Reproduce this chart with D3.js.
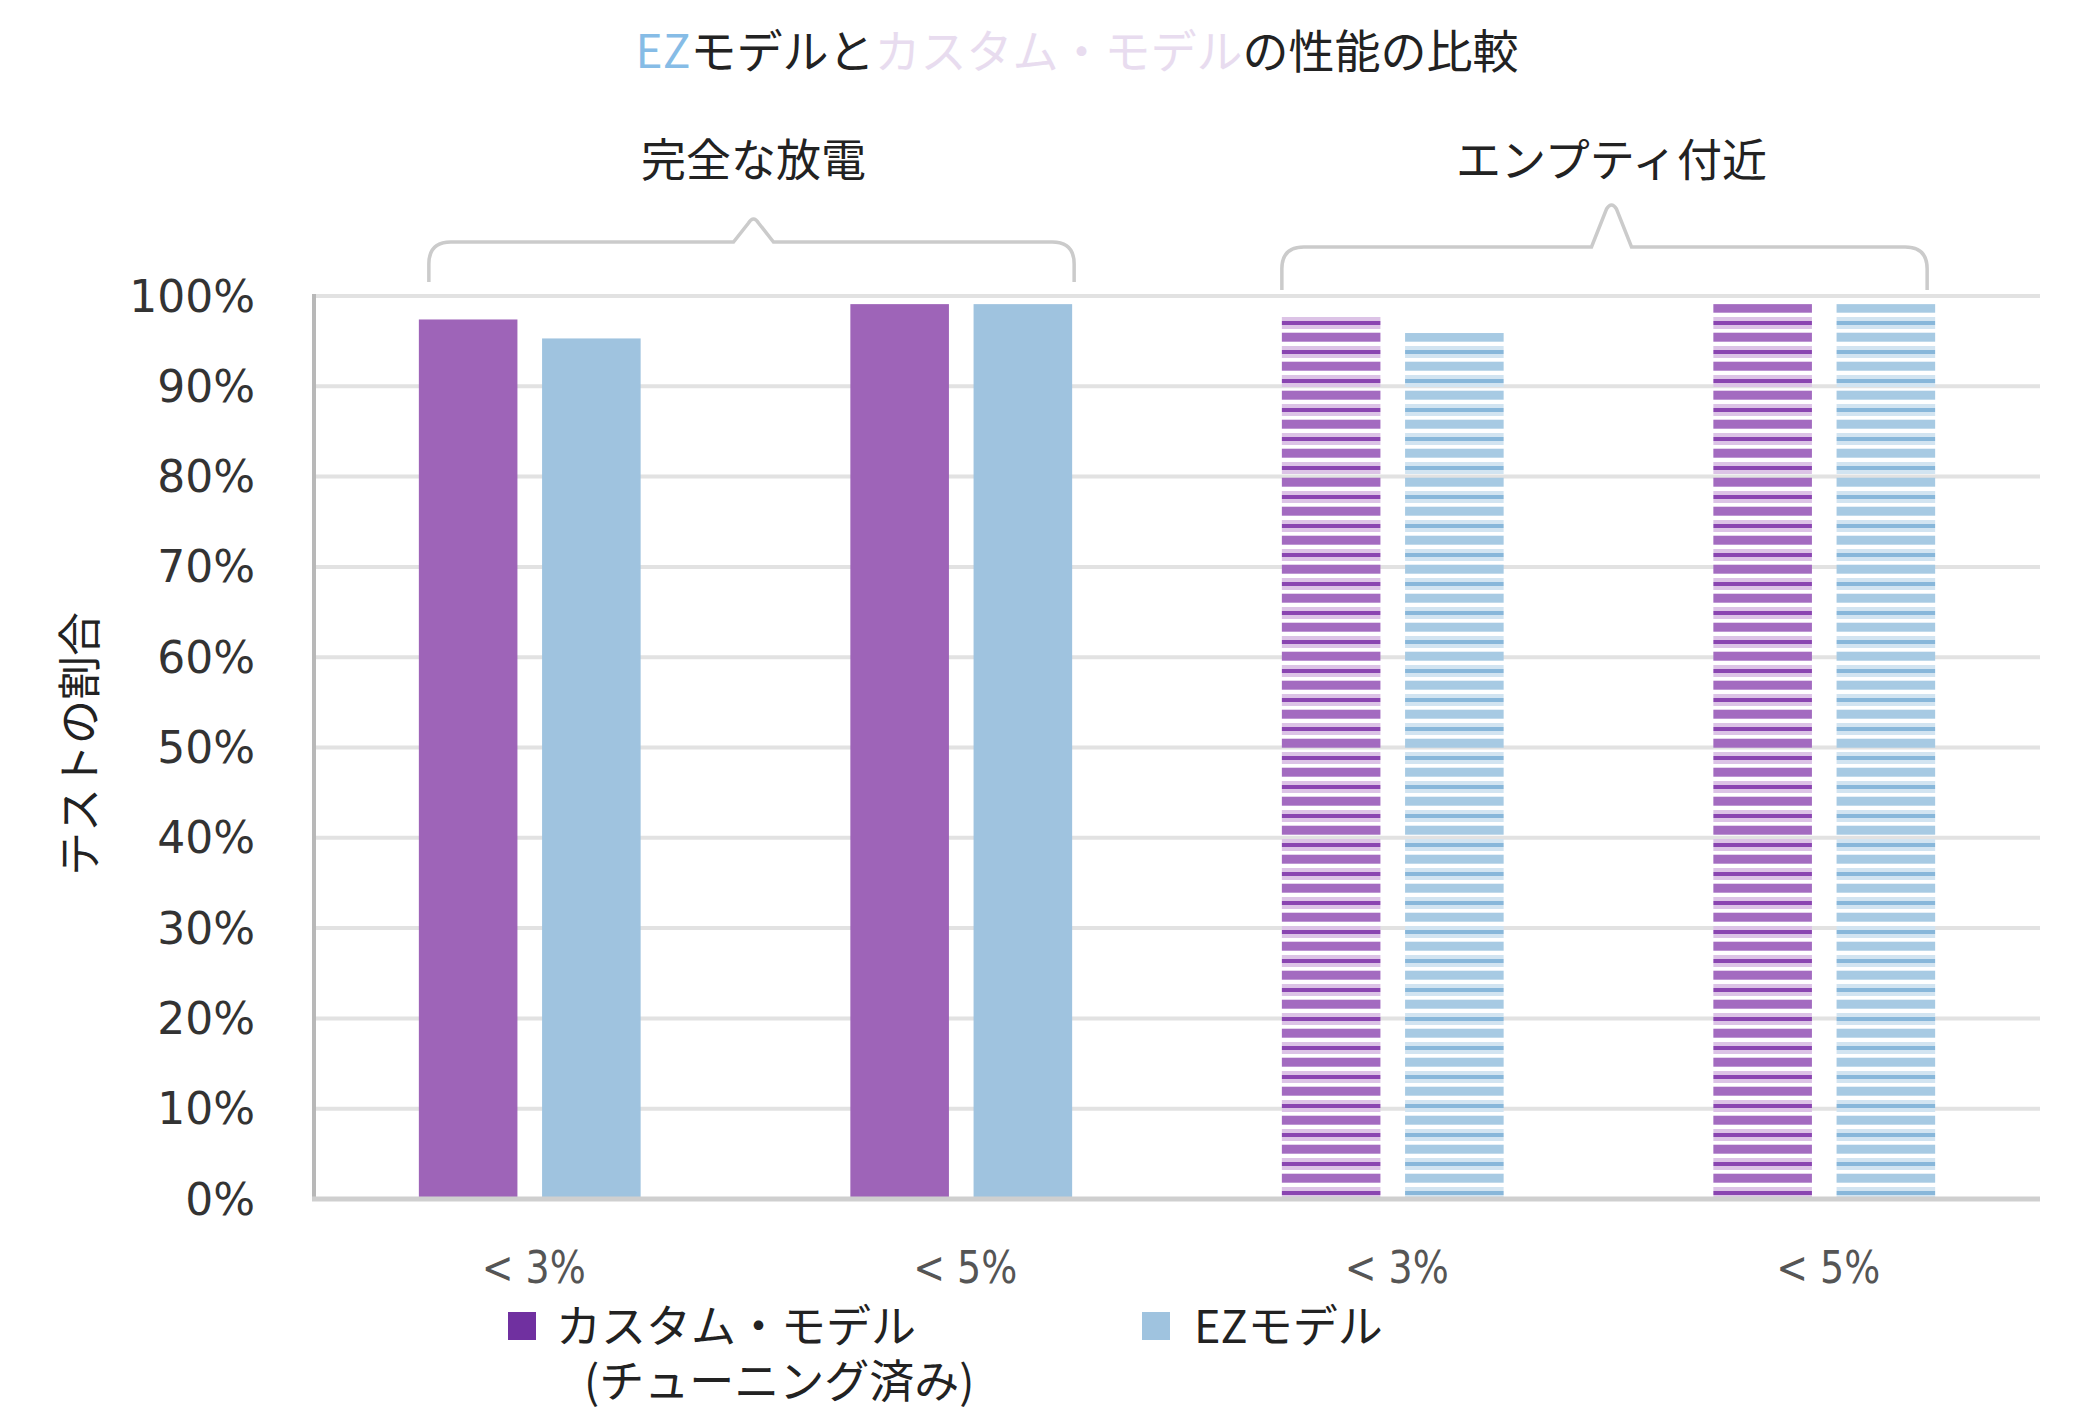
<!DOCTYPE html>
<html><head><meta charset="utf-8">
<script src="https://cdn.jsdelivr.net/npm/d3@7"></script>
<style>html,body{margin:0;padding:0;background:#fff;}</style>
</head><body>
<svg id="chart" width="2084" height="1414"></svg>
<script>
const categories = ["< 3%", "< 5%", "< 3%", "< 5%"];
const groupLabels = ["完全な放電", "エンプティ付近"];
const seriesNames = ["カスタム・モデル", "EZモデル"];
const legendSub = "(チューニング済み)";
const customValues = [97.4, 99.1, 97.7, 99.1];
const ezValues = [95.3, 99.1, 95.9, 99.1];
const striped = [false, false, true, true];
const yTicks = [0,10,20,30,40,50,60,70,80,90,100];

const svg = d3.select("#chart");
const W = 2084, H = 1414;
svg.append("rect").attr("width", W).attr("height", H).attr("fill", "#fff");

const L = 314, R = 2040, T = 296, B = 1199;
const CJK = "'Noto Sans CJK JP', 'Noto Sans', sans-serif";
const y = d3.scaleLinear().domain([0, 100]).range([B, T]);
const x0 = d3.scaleBand().domain(d3.range(categories.length)).range([L, R]).paddingInner(0.486).paddingOuter(0.243);
const x1 = d3.scaleBand().domain([0, 1]).range([0, x0.bandwidth()]).paddingInner(0.2);

const colors = {solid: ["#9e64b8", "#9fc3df"], legend: ["#7030a0", "#9fc3df"]};

// patterns
const defs = svg.append("defs");
const pat = [
  {id: "stripeP", light: "#dcc3e6", dark: "#8a45b1", med: "#a36bc0"},
  {id: "stripeB", light: "#d2e4f1", dark: "#88b7da", med: "#a7cae3"}
];
pat.forEach(p => {
  const g = defs.append("pattern").attr("id", p.id).attr("patternUnits", "userSpaceOnUse")
    .attr("x", 0).attr("y", 317).attr("width", 10).attr("height", 29);
  g.append("rect").attr("x", 0).attr("y", 0).attr("width", 10).attr("height", 12).attr("fill", p.light);
  g.append("rect").attr("x", 0).attr("y", 4).attr("width", 10).attr("height", 4).attr("fill", p.dark);
  g.append("rect").attr("x", 0).attr("y", 15.7).attr("width", 10).attr("height", 9).attr("fill", p.med);
});

// gridlines
svg.append("g").selectAll("line").data(yTicks).join("line")
  .attr("x1", L).attr("x2", R).attr("y1", d => y(d)).attr("y2", d => y(d))
  .attr("stroke", "#e2e2e2").attr("stroke-width", 4);

// y tick labels
svg.append("g").selectAll("text").data(yTicks).join("text")
  .attr("x", 255).attr("y", d => y(d)).attr("text-anchor", "end").attr("dominant-baseline", "central")
  .attr("font-family", "'DejaVu Sans', sans-serif").attr("font-size", 44).attr("fill", "#333")
  .text(d => d + "%");

// bars
const series = [customValues, ezValues];
series.forEach((vals, si) => {
  svg.append("g").selectAll("rect").data(vals).join("rect")
    .attr("x", (d, i) => x0(i) + x1(si)).attr("width", x1.bandwidth())
    .attr("y", d => y(d)).attr("height", d => y(0) - y(d))
    .attr("fill", (d, i) => striped[i] ? `url(#${pat[si].id})` : colors.solid[si]);
});

// axes lines
svg.append("line").attr("x1", L).attr("x2", L).attr("y1", T - 2).attr("y2", B + 2)
  .attr("stroke", "#b8b8b8").attr("stroke-width", 4);
svg.append("line").attr("x1", L - 2).attr("x2", R).attr("y1", B).attr("y2", B)
  .attr("stroke", "#cfcfcf").attr("stroke-width", 5);

// category labels
svg.append("g").selectAll("text").data(categories).join("text")
  .attr("x", (d, i) => x0(i) + x0.bandwidth() / 2 + 4).attr("y", 1267)
  .attr("text-anchor", "middle").attr("dominant-baseline", "central")
  .attr("font-family", "'DejaVu Sans', sans-serif").attr("font-size", 44).attr("fill", "#555")
  .attr("textLength", 104).attr("lengthAdjust", "spacingAndGlyphs")
  .text(d => d);

// braces
const braceSpec = [
  {a: 0, b: 1, da: 10, db: 2, line: 242, peak: 217, bottom: 282, ly: 157, dm: 2},
  {a: 2, b: 3, da: 0, db: -8, line: 247, peak: 203, bottom: 290, ly: 157, dm: 7}
];
braceSpec.forEach((s, gi) => {
  const xa = x0(s.a) + s.da, xb = x0(s.b) + x0.bandwidth() + s.db;
  const xm = (xa + xb) / 2 + s.dm;
  const r = 22;
  const p = d3.path();
  p.moveTo(xa, s.bottom);
  p.lineTo(xa, s.line + r);
  p.quadraticCurveTo(xa, s.line, xa + r, s.line);
  p.lineTo(xm - 20, s.line);
  p.lineTo(xm - 5, s.peak + 6);
  p.quadraticCurveTo(xm, s.peak - 2, xm + 5, s.peak + 6);
  p.lineTo(xm + 20, s.line);
  p.lineTo(xb - r, s.line);
  p.quadraticCurveTo(xb, s.line, xb, s.line + r);
  p.lineTo(xb, s.bottom);
  svg.append("path").attr("d", p.toString()).attr("fill", "none")
    .attr("stroke", "#cbcbcb").attr("stroke-width", 3.5);
  svg.append("text").attr("x", xm).attr("y", s.ly).attr("text-anchor", "middle")
    .attr("dominant-baseline", "central").attr("font-family", CJK).attr("font-size", 45)
    .attr("fill", "#222").text(groupLabels[gi]);
});

// title
const title = svg.append("text").attr("x", 1077).attr("y", 48).attr("text-anchor", "middle")
  .attr("dominant-baseline", "central").attr("font-family", CJK).attr("font-size", 46).attr("fill", "#222");
title.append("tspan").attr("fill", "#86bce6").text("EZ");
title.append("tspan").text("モデルと");
title.append("tspan").attr("fill", "#e8dcef").text("カスタム・モデル");
title.append("tspan").text("の性能の比較");

// y label
svg.append("text").attr("transform", "translate(77,744) rotate(-90)")
  .attr("text-anchor", "middle").attr("dominant-baseline", "central")
  .attr("font-family", CJK).attr("font-size", 44).attr("fill", "#222").text("テストの割合");

// legend
const leg = svg.append("g");
leg.append("rect").attr("x", 508).attr("y", 1312).attr("width", 28).attr("height", 28).attr("fill", colors.legend[0]);
const lt = leg.append("text").attr("x", 556).attr("y", 1323).attr("dominant-baseline", "central")
  .attr("font-family", CJK).attr("font-size", 45).attr("fill", "#222");
lt.append("tspan").attr("x", 556).attr("y", 1323).text(seriesNames[0]);
lt.append("tspan").attr("x", 584).attr("y", 1378).text(legendSub);
leg.append("rect").attr("x", 1142).attr("y", 1312).attr("width", 28).attr("height", 28).attr("fill", colors.legend[1]);
leg.append("text").attr("x", 1194).attr("y", 1323).attr("dominant-baseline", "central")
  .attr("font-family", CJK).attr("font-size", 45).attr("fill", "#222").text(seriesNames[1]);
</script>
</body></html>
